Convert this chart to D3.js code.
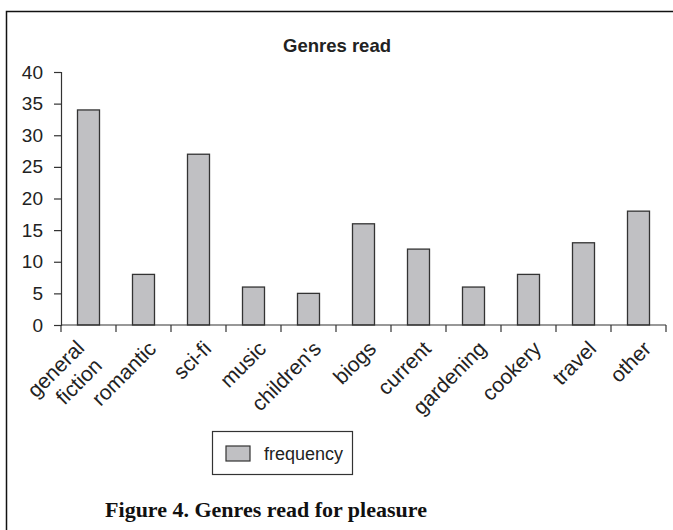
<!DOCTYPE html>
<html>
<head>
<meta charset="utf-8">
<script src="https://cdn.jsdelivr.net/npm/d3@7"></script>
<style>
  html, body { margin: 0; padding: 0; background: #fff; }
  svg { display: block; }
</style>
</head>
<body>
<svg id="chart" width="673" height="530"></svg>
<script>
// Genres read for pleasure: number of respondents per genre
const genres = ["general\nfiction", "romantic", "sci-fi", "music", "children's", "biogs",
                "current", "gardening", "cookery", "travel", "other"];
const frequency = [34, 8, 27, 6, 5, 16, 12, 6, 8, 13, 18];
const yTicks = [0, 5, 10, 15, 20, 25, 30, 35, 40];
const seriesName = "frequency";

const svg = d3.select("#chart");
const sans = "'Liberation Sans', Arial, sans-serif";

// outer frame
svg.append("rect")
  .attr("x", 6.5).attr("y", 11.5)
  .attr("width", 700).attr("height", 600)
  .attr("fill", "none").attr("stroke", "#111").attr("stroke-width", 1.5);

const x = d3.scaleBand().domain(genres).range([61, 666]).paddingInner(0.6).paddingOuter(0.3);
const y = d3.scaleLinear().domain([0, 40]).range([325, 72]);

// title
svg.append("text")
  .attr("x", 337).attr("y", 52)
  .attr("text-anchor", "middle")
  .attr("font-family", sans).attr("font-weight", "bold").attr("font-size", 18.5)
  .attr("fill", "#222")
  .text("Genres read");

// bars
svg.append("g").selectAll("rect")
  .data(frequency)
  .join("rect")
  .attr("x", (d, i) => x(genres[i]))
  .attr("y", d => y(d))
  .attr("width", x.bandwidth())
  .attr("height", d => y(0) - y(d))
  .attr("fill", "#c0c0c3")
  .attr("stroke", "#333").attr("stroke-width", 1.3);

// y axis
const yAxis = svg.append("g")
  .attr("transform", "translate(61,0)")
  .call(d3.axisLeft(y).tickValues(yTicks).tickSize(7).tickPadding(11));
yAxis.selectAll("text").attr("font-family", sans).attr("font-size", 19).attr("fill", "#222");
yAxis.selectAll("line, path").attr("stroke", "#333").attr("stroke-width", 1.2);

// x axis: ticks at band boundaries, rotated category labels
const step = x.step();
const boundaries = d3.range(genres.length + 1).map(i => 61 + i * step);
const xg = svg.append("g");
xg.append("line")
  .attr("x1", 61).attr("x2", 61 + genres.length * step)
  .attr("y1", y(0)).attr("y2", y(0))
  .attr("stroke", "#333").attr("stroke-width", 1.2);
xg.selectAll("line.tick")
  .data(boundaries)
  .join("line").attr("class", "tick")
  .attr("x1", d => d).attr("x2", d => d)
  .attr("y1", y(0)).attr("y2", y(0) + 7)
  .attr("stroke", "#333").attr("stroke-width", 1.2);

// labels end just right of the band centre; wrapped labels step back along the baseline
const labels = xg.selectAll("text.cat")
  .data(genres)
  .join("text").attr("class", "cat")
  .attr("transform", d => `translate(${x(d) + x.bandwidth() / 2 + 14},${y(0) + 25}) rotate(-45)`)
  .attr("text-anchor", "end")
  .attr("font-family", sans).attr("font-size", 21).attr("fill", "#222");
labels.each(function (d) {
  const lines = d.split("\n");
  const t = d3.select(this);
  const back = -(lines.length - 1) * 11.5;
  lines.forEach((ln, k) => {
    t.append("tspan")
      .attr("x", back)
      .attr("dy", k === 0 ? `${-(lines.length - 1) * 0.6}em` : "1.2em")
      .text(ln);
  });
});

// legend
const lg = svg.append("g");
lg.append("rect")
  .attr("x", 212.5).attr("y", 431.5).attr("width", 140).attr("height", 43)
  .attr("fill", "#fff").attr("stroke", "#333").attr("stroke-width", 1.2);
lg.append("rect")
  .attr("x", 226).attr("y", 446).attr("width", 24).attr("height", 15)
  .attr("fill", "#c0c0c3").attr("stroke", "#333").attr("stroke-width", 1.2);
lg.append("text")
  .attr("x", 264).attr("y", 460)
  .attr("font-family", sans).attr("font-size", 18).attr("fill", "#222")
  .text(seriesName);

// caption
svg.append("text")
  .attr("x", 266).attr("y", 517)
  .attr("text-anchor", "middle")
  .attr("font-family", "'Liberation Serif', 'Times New Roman', serif")
  .attr("font-weight", "bold").attr("font-size", 22).attr("fill", "#111")
  .text("Figure 4. Genres read for pleasure");
</script>
</body>
</html>
